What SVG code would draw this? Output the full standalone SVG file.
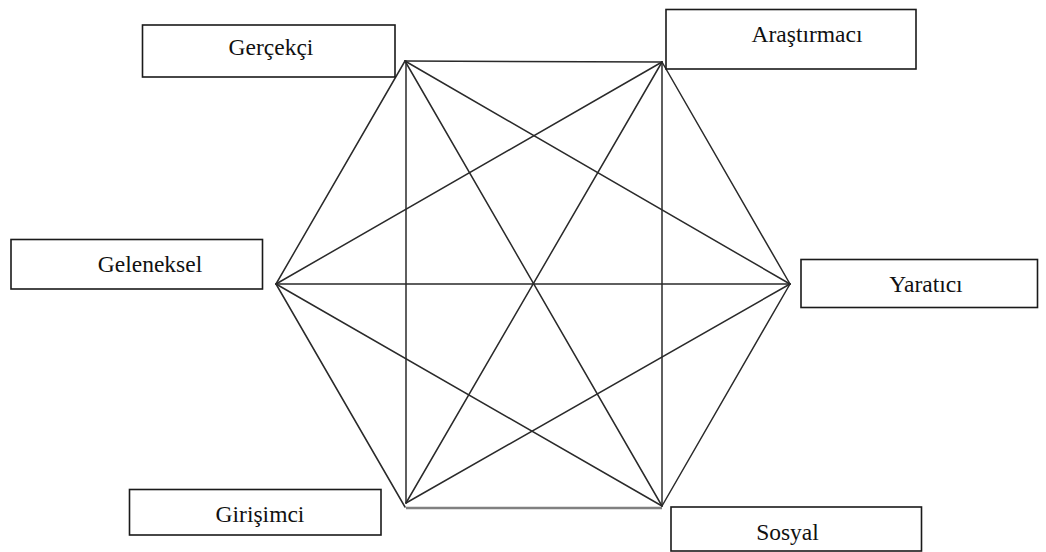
<svg xmlns="http://www.w3.org/2000/svg" width="1046" height="552" viewBox="0 0 1046 552">
<style>
.box{fill:#fff;stroke:#1a1a1a;stroke-width:1.6}
.lbl{font-family:"Liberation Serif","Times New Roman",serif;font-size:23.5px;fill:#111;text-anchor:middle}
.ln{stroke:#2a2a2a;stroke-width:1.5;fill:none;stroke-linecap:round}
</style>
<rect width="1046" height="552" fill="#fff"/>
<g id="connectors">
<line class="ln" x1="405" y1="61" x2="662" y2="62"/>
<line class="ln" x1="662" y1="62" x2="790" y2="284"/>
<line class="ln" x1="790" y1="284" x2="662" y2="506"/>
<line x1="406" y1="508" x2="662" y2="508" stroke="#808080" stroke-width="2.5"/>
<line class="ln" x1="405" y1="507" x2="276" y2="284"/>
<line class="ln" x1="276" y1="284" x2="405" y2="61"/>
<line class="ln" x1="406" y1="61" x2="406" y2="503"/>
<line class="ln" x1="662" y1="62" x2="662" y2="506"/>
<line class="ln" x1="276" y1="284" x2="790" y2="284"/>
<line class="ln" x1="405" y1="61" x2="790" y2="284"/>
<line class="ln" x1="405" y1="61" x2="662" y2="506"/>
<line class="ln" x1="662" y1="62" x2="276" y2="284"/>
<line class="ln" x1="662" y1="62" x2="406" y2="503"/>
<line class="ln" x1="406" y1="503" x2="790" y2="284"/>
<line class="ln" x1="662" y1="506" x2="276" y2="284"/>
</g>
<g id="gercekci">
<rect class="box" x="142.5" y="25" width="252.5" height="52"/>
<text class="lbl" x="271" y="55">Gerçekçi</text>
</g>
<g id="arastirmaci">
<rect class="box" x="666" y="9.5" width="250" height="59.5"/>
<text class="lbl" x="807" y="42">Araştırmacı</text>
</g>
<g id="geleneksel">
<rect class="box" x="11" y="239.5" width="251.5" height="49.5"/>
<text class="lbl" x="150" y="272">Geleneksel</text>
</g>
<g id="yaratici">
<rect class="box" x="801" y="259.5" width="236.5" height="48"/>
<text class="lbl" x="926" y="292">Yaratıcı</text>
</g>
<g id="girisimci">
<rect class="box" x="129.5" y="489.5" width="251.5" height="45.5"/>
<text class="lbl" x="260" y="522">Girişimci</text>
</g>
<g id="sosyal">
<rect class="box" x="671" y="507" width="250.5" height="44"/>
<text class="lbl" x="787.5" y="539.5">Sosyal</text>
</g>
</svg>
